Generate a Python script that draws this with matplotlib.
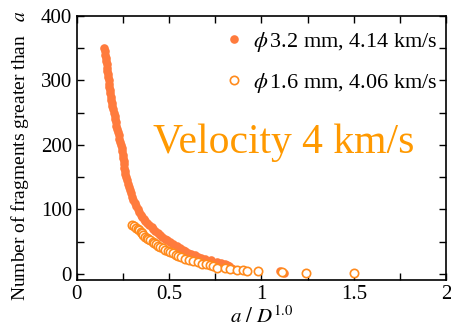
import matplotlib
matplotlib.use("Agg")
import matplotlib.pyplot as plt
from matplotlib.ticker import MultipleLocator

plt.rcParams['font.family'] = ['Liberation Serif', 'DejaVu Serif']
plt.rcParams['mathtext.fontset'] = 'stix'

# phi 3.2 mm, 4.14 km/s  (cumulative number vs a/D)
a_32 = [0.147, 0.152, 0.154, 0.156, 0.158, 0.161, 0.163, 0.165, 0.167, 0.170,
        0.172, 0.174, 0.176, 0.178, 0.181, 0.184, 0.187, 0.190, 0.193, 0.196,
        0.200, 0.204, 0.207, 0.211, 0.214, 0.218, 0.222, 0.226, 0.230, 0.235,
        0.240, 0.244, 0.247, 0.250, 0.252, 0.254, 0.256, 0.258, 0.260, 0.263,
        0.266, 0.271, 0.276, 0.281, 0.286, 0.292, 0.298, 0.305, 0.313, 0.322,
        0.330, 0.337, 0.345, 0.354, 0.362, 0.370, 0.382, 0.393, 0.405, 0.415,
        0.425, 0.437, 0.449, 0.462, 0.476, 0.490, 0.506, 0.523, 0.540, 0.556,
        0.573, 0.588, 0.604, 0.620, 0.638, 0.655, 0.675, 0.695, 0.725, 0.757,
        0.780, 0.800, 0.815, 0.825, 0.835, 0.845, 0.900, 1.100, 1.110, 1.120,
        1.240]
n_32 = [350, 345, 340, 335, 330, 325, 320, 315, 310, 305,
        300, 295, 290, 285, 280, 275, 270, 265, 260, 255,
        250, 245, 240, 235, 230, 225, 220, 215, 210, 205,
        200, 195, 190, 185, 180, 175, 170, 165, 160, 155,
        150, 145, 140, 135, 130, 125, 120, 115, 110, 105,
        100, 96, 92, 88, 85, 82, 79, 76, 73, 70,
        67, 64, 61, 58, 55, 52, 49, 46, 43, 40,
        37, 35, 33, 31, 29, 27, 25, 23, 21, 19,
        17, 15, 14, 12, 10, 8, 6, 4, 3, 2,
        1]

# phi 1.6 mm, 4.06 km/s
a_16 = [0.300, 0.310, 0.320, 0.330, 0.338, 0.345, 0.352, 0.360, 0.368, 0.378,
        0.388, 0.398, 0.410, 0.420, 0.430, 0.440, 0.452, 0.465, 0.478, 0.492,
        0.505, 0.520, 0.535, 0.550, 0.565, 0.585, 0.605, 0.630, 0.655, 0.680,
        0.700, 0.720, 0.740, 0.760, 0.800, 0.830, 0.870, 0.900, 0.920, 0.980,
        1.110, 1.240, 1.500]
n_16 = [76, 74, 72, 70, 68, 65, 63, 61, 58, 56,
        54, 52, 50, 48, 46, 44, 42, 40, 38, 36,
        34, 32, 30, 28, 26, 24, 22, 20, 18, 16,
        15, 14, 12, 10, 9, 8, 7, 6, 5, 4,
        3, 2, 1]

fig = plt.figure(figsize=(4.52, 3.31), dpi=100)
ax = fig.add_axes([0.170, 0.154, 0.817, 0.798])

ax.plot(a_32, n_32, 'o', color='#ff7b3d', markersize=6.2, markeredgewidth=0,
        label=r'$\phi\,$3.2 mm, 4.14 km/s')
ax.plot(a_16, n_16, 'o', markerfacecolor='white', markeredgecolor='#ff8a1c',
        markersize=6.0, markeredgewidth=1.2, label=r'$\phi\,$1.6 mm, 4.06 km/s')

ax.set_xlim(0, 2)
ax.set_ylim(-9.3, 400)
ax.xaxis.set_major_locator(MultipleLocator(0.5))
ax.xaxis.set_minor_locator(MultipleLocator(0.25))
ax.yaxis.set_major_locator(MultipleLocator(100))
ax.yaxis.set_minor_locator(MultipleLocator(50))
ax.set_xticks([0, 0.5, 1, 1.5, 2])
ax.set_xticklabels(['0', '0.5', '1', '1.5', '2'])
ax.tick_params(which='both', direction='in', top=True, right=True,
               labelsize=15, width=1)
ax.tick_params(which='major', length=5)
ax.tick_params(which='minor', length=5)
for s in ax.spines.values():
    s.set_linewidth(1.2)

ax.set_xlabel(r'$a\ /\ D^{1.0}$', fontsize=15, labelpad=2)
fig.text(0.044, 0.532, r'Number of fragments greater than   $a$',
         rotation=90, ha='center', va='center', fontsize=14)

ax.text(0.41, 188, 'Velocity 4 km/s', color='#ff9900', fontsize=30,
        va='baseline', ha='left')

ax.legend(loc='upper right', bbox_to_anchor=(1.012, 0.997), frameon=False,
          fontsize=16, handletextpad=0.35, labelspacing=0.75, markerscale=1.0,
          handlelength=1.0, borderaxespad=0.2)

fig.savefig('out.png', dpi=100)
